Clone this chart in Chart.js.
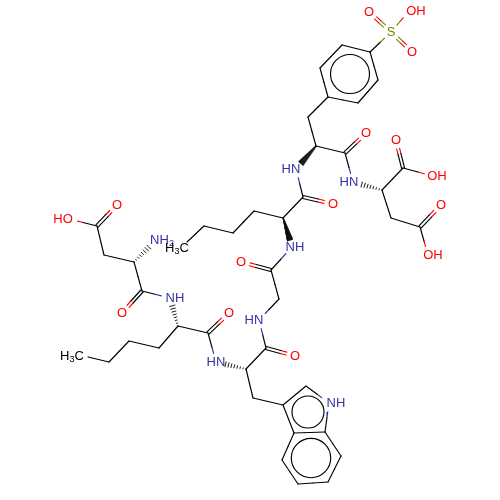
<!DOCTYPE html>
<html>
<head>
<meta charset="utf-8">
<style>
  html, body { margin: 0; padding: 0; background: #fff; }
  canvas { display: block; }
</style>
<script src="https://cdn.jsdelivr.net/npm/chart.js@4"></script>
</head>
<body>
<canvas id="mol" width="500" height="500"></canvas>
<script>
// atoms
const atomX = [391,369,409,412,370,342,320,328,358,378,308,316,345,366,296,303,333,283,254,233,204,187,292,271,241,279,259,266,295,246,216,208,229,178,170,142,122,134,155,104,97,117,69,159,129,109,88,253,283,306,329,325,294,282,298,328,341,353,382,403,396,433,391,420,441,428];
const atomY = [32,12,11,52,52,45,68,97,103,80,117,146,153,133,169,197,204,218,211,233,226,242,247,270,262,299,320,348,356,369,362,333,313,326,298,291,313,262,241,255,226,205,219,348,341,362,357,398,405,386,403,432,433,460,484,482,456,182,190,168,140,176,218,227,205,255];
const atomType = ['S','O','O','O','C','C','C','C','C','C','C','C','C','O','N','C','O','C','C','C','C','C','N','C','O','C','N','C','O','C','N','C','O','C','N','C','O','C','N','C','C','O','O','C','C','C','C','C','C','C','N','C','C','C','C','C','C','N','C','C','O','O','C','C','O','O'];

// bonds: from, to
const singleBonds = [[4,5],[5,6],[6,7],[7,8],[8,9],[9,4],[0,4],[0,2],[7,10],[10,11],[11,12],[12,57],[14,15],[15,17],[17,18],[18,19],[19,20],[20,21],[22,23],[23,25],[25,26],[26,27],[27,29],[30,31],[31,33],[34,35],[35,37],[37,39],[39,40],[40,42],[33,43],[43,44],[44,45],[45,46],[29,47],[47,48],[48,49],[49,50],[50,51],[51,52],[52,48],[52,53],[53,54],[54,55],[55,56],[56,51],[58,59],[59,61],[58,62],[62,63],[63,65]];
const doubleBonds = [[0,1],[0,3],[12,13],[15,16],[23,24],[27,28],[31,32],[35,36],[40,41],[59,60],[63,64]];
const wedgeBonds = [[11,14],[17,22]];
const hashBonds = [[29,30],[33,34],[37,38],[58,57]];

// aromatic circles
const ringX = [350,308,311];
const ringY = [74,412,458];
const ringR = [19.5,16,19.7];

// atom labels
const labelText = ['O','OH','O','S','O','HN','O','NH','O','HN','O','HN','O','NH','O','NH2','O','HO','H3C','H3C','NH','HN','O','OH','O','OH'];
const labelX = [369,416,412,391,366,291,333,295,241,254,295,216,229,175,122,162,117,63,177,72,336,349,396,437,441,433];
const labelY = [12,11,52,32,133,169,204,247,262,320,356,362,313,298,313,240,205,219,248,356,403,182,140,176,205,255];
const labelType = ['O','O','O','S','O','N','O','N','O','N','O','N','O','N','O','N','O','O','C','C','N','N','O','O','O','O'];

const COLORS = { C: '#000000', O: '#ff0000', N: '#3333a6', S: '#7f7f00' };
const BOND_WIDTH = 1.15;
const TRIM = 9;

const datasets = [];

function addLine(x1, y1, x2, y2, color, width) {
  datasets.push({
    type: 'scatter',
    showLine: true,
    data: [{ x: x1, y: y1 }, { x: x2, y: y2 }],
    borderColor: color,
    borderWidth: width || BOND_WIDTH,
    pointRadius: 0,
    borderCapStyle: 'round',
  });
}

function addBond(a, b, off) {
  let x1 = atomX[a], y1 = atomY[a], x2 = atomX[b], y2 = atomY[b];
  const dx = x2 - x1, dy = y2 - y1, len = Math.hypot(dx, dy);
  const ux = dx / len, uy = dy / len;
  const midX = (x1 + x2) / 2 - uy * off, midY = (y1 + y2) / 2 + ux * off;
  if (atomType[a] !== 'C') { x1 += ux * TRIM; y1 += uy * TRIM; }
  if (atomType[b] !== 'C') { x2 -= ux * TRIM; y2 -= uy * TRIM; }
  x1 -= uy * off; y1 += ux * off;
  x2 -= uy * off; y2 += ux * off;
  addLine(x1, y1, midX, midY, COLORS[atomType[a]]);
  addLine(midX, midY, x2, y2, COLORS[atomType[b]]);
}

// stereo bonds are stacks of cross strokes, narrow at the first atom
function addStereo(a, b, step, lw) {
  const dx = atomX[b] - atomX[a], dy = atomY[b] - atomY[a], len = Math.hypot(dx, dy);
  const ux = dx / len, uy = dy / len, end = len - TRIM + 2;
  for (let d = 0; d <= end; d += step) {
    const half = 0.3 + 2.6 * d / end;
    const cx = atomX[a] + ux * d, cy = atomY[a] + uy * d;
    addLine(cx - uy * half, cy + ux * half, cx + uy * half, cy - ux * half, '#000000', lw);
  }
}

singleBonds.forEach(([a, b]) => addBond(a, b, 0));
doubleBonds.forEach(([a, b]) => { addBond(a, b, 1.5); addBond(a, b, -1.5); });
wedgeBonds.forEach(([a, b]) => addStereo(a, b, 0.4, 0.8));
hashBonds.forEach(([a, b]) => addStereo(a, b, 3, 0.9));

datasets.push({
  type: 'scatter',
  data: ringX.map((x, i) => ({ x, y: ringY[i] })),
  pointRadius: ringR,
  pointBackgroundColor: 'rgba(0,0,0,0)',
  pointBorderColor: '#000000',
  pointBorderWidth: BOND_WIDTH,
});

const atomLabels = {
  id: 'atomLabels',
  afterDatasetsDraw(chart) {
    const { ctx, scales } = chart;
    const big = "13px 'Liberation Sans', sans-serif";
    const small = "9px 'Liberation Sans', sans-serif";
    ctx.save();
    ctx.textBaseline = 'middle';
    ctx.textAlign = 'left';
    labelText.forEach((text, i) => {
      const parts = text.split(/(\d)/).filter(Boolean);
      const widths = parts.map((p) => {
        ctx.font = /\d/.test(p) ? small : big;
        return ctx.measureText(p).width;
      });
      let x = scales.x.getPixelForValue(labelX[i]) - widths.reduce((s, w) => s + w, 0) / 2;
      const y = scales.y.getPixelForValue(labelY[i]);
      ctx.fillStyle = COLORS[labelType[i]];
      parts.forEach((p, j) => {
        const sub = /\d/.test(p);
        ctx.font = sub ? small : big;
        ctx.fillText(p, x, sub ? y + 4 : y);
        x += widths[j];
      });
    });
    ctx.restore();
  },
};

new Chart(document.getElementById('mol'), {
  type: 'scatter',
  data: { datasets },
  plugins: [atomLabels],
  options: {
    responsive: false,
    animation: false,
    layout: { padding: 0, autoPadding: false },
    plugins: { legend: { display: false }, tooltip: { enabled: false } },
    scales: {
      x: { type: 'linear', min: 0, max: 500, display: false },
      y: { type: 'linear', min: 0, max: 500, reverse: true, display: false },
    },
  },
});
</script>
</body>
</html>
